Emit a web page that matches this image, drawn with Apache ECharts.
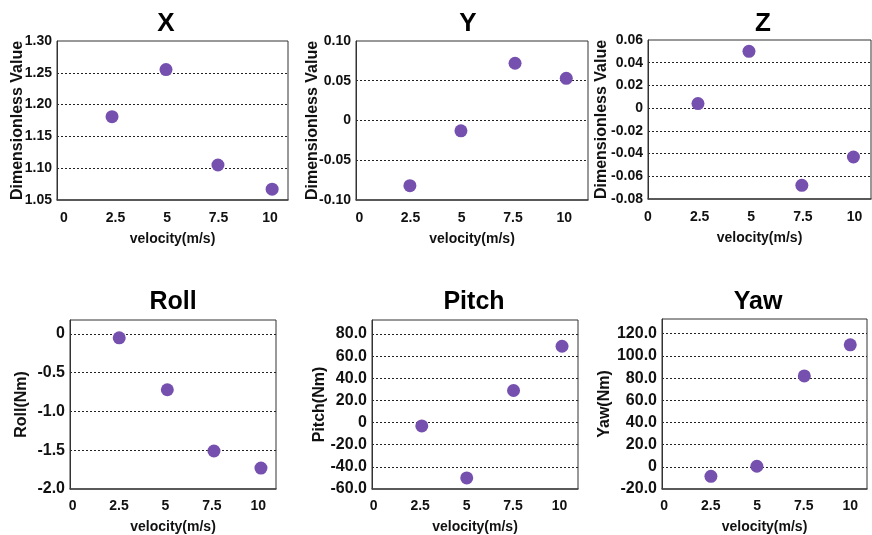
<!DOCTYPE html>
<html>
<head>
<meta charset="utf-8">
<script src="https://cdn.jsdelivr.net/npm/echarts@6/dist/echarts.min.js"></script>
<style>
  html, body { margin: 0; padding: 0; background: #fff; }
  #main { width: 872px; height: 535px; }
</style>
</head>
<body>
<div id="main"></div>
<script>
// 数据
var xTicks = [0, 2.5, 5, 7.5, 10];

var titles = ['X', 'Y', 'Z', 'Roll', 'Pitch', 'Yaw'];
var yNames = ['Dimensionless Value', 'Dimensionless Value', 'Dimensionless Value', 'Roll(Nm)', 'Pitch(Nm)', 'Yaw(Nm)'];

var velX = [2.33, 4.95, 7.47, 10.1];
var velY = [2.47, 4.96, 7.6, 10.1];
var velZ = [2.42, 4.89, 7.45, 9.95];
var velRoll = [2.51, 5.1, 7.61, 10.14];
var velPitch = [2.59, 5.01, 7.53, 10.14];
var velYaw = [2.51, 4.98, 7.53, 10.0];

var valX = [1.181, 1.255, 1.105, 1.067];
var valY = [-0.082, -0.013, 0.072, 0.053];
var valZ = [0.004, 0.050, -0.068, -0.043];
var valRoll = [-0.05, -0.72, -1.51, -1.73];
var valPitch = [-3, -50, 29, 69];
var valYaw = [-8.6, 0.5, 82, 110];

// y轴刻度
var ticksX = [1.05, 1.10, 1.15, 1.20, 1.25, 1.30];
var ticksY = [-0.10, -0.05, 0, 0.05, 0.10];
var ticksZ = [-0.08, -0.06, -0.04, -0.02, 0, 0.02, 0.04, 0.06];
var ticksRoll = [-2.0, -1.5, -1.0, -0.5, 0];
var ticksPitch = [-60, -40, -20, 0, 20, 40, 60, 80];
var ticksYaw = [-20, 0, 20, 40, 60, 80, 100, 120];

var vels = [velX, velY, velZ, velRoll, velPitch, velYaw];
var vals = [valX, valY, valZ, valRoll, valPitch, valYaw];
var yTicks = [ticksX, ticksY, ticksZ, ticksRoll, ticksPitch, ticksYaw];
var yDigits = [2, 2, 2, 1, 1, 1];

// 布局
var grids = [
  { left: 57, top: 41, width: 231, height: 159 },
  { left: 356, top: 41, width: 232, height: 159 },
  { left: 648, top: 40, width: 223, height: 159 },
  { left: 70, top: 320, width: 206, height: 172 },
  { left: 372, top: 320, width: 206, height: 172 },
  { left: 662, top: 319, width: 205, height: 173 }
];
var xRange = [[-0.34, 10.87], [-0.16, 11.16], [0, 10.8], [-0.14, 10.95], [-0.09, 11.0], [-0.12, 10.9]];
var yRange = [[1.05, 1.30], [-0.10, 0.10], [-0.08, 0.06], [-2.0, 0.18], [-60, 92.7], [-20, 133.3]];
var titlePos = [[166, 24], [468, 24], [763, 24], [173, 302], [474, 302], [758, 302]];
var yNameGap = [31, 35, 38, 40, 44, 49];

var FONT = '"Liberation Sans", Arial, Helvetica, sans-serif';
var dotColor = '#7650ae';

var option = {
  animation: false,
  backgroundColor: '#fff',
  textStyle: { fontFamily: FONT },
  grid: [],
  xAxis: [],
  yAxis: [],
  series: [],
  graphic: []
};

for (var i = 0; i < 6; i++) {
  var g = grids[i];
  var bottomRow = i >= 3;
  option.grid.push({
    left: g.left, top: g.top, width: g.width, height: g.height,
    show: true, borderColor: '#333', borderWidth: 1, backgroundColor: 'transparent'
  });

  option.xAxis.push({
    type: 'value',
    gridIndex: i,
    min: xRange[i][0],
    max: xRange[i][1],
    name: 'velocity(m/s)',
    nameLocation: 'middle',
    nameGap: bottomRow ? 31 : 32,
    nameMoveOverlap: false,
    nameTextStyle: { fontSize: 14, fontWeight: 'bold', color: '#111', fontFamily: FONT },
    axisLine: { show: true, onZero: false, lineStyle: { color: '#444', width: 1.5 } },
    axisTick: { show: false, customValues: xTicks },
    axisLabel: {
      customValues: xTicks,
      margin: bottomRow ? 10 : 11,
      fontSize: 14, fontWeight: 'bold', color: '#111', fontFamily: FONT,
      formatter: function (v) { return String(v); }
    },
    splitLine: { show: false }
  });

  var inner = yTicks[i].slice(1, -1);
  // Roll/Pitch/Yaw 顶部没有刻度
  if (i >= 3) inner = yTicks[i].slice(1);
  (function (d) {
    option.yAxis.push({
      type: 'value',
      gridIndex: i,
      min: yRange[i][0],
      max: yRange[i][1],
      name: yNames[i],
      nameLocation: 'middle',
      nameRotate: 90,
      nameGap: yNameGap[i],
      nameMoveOverlap: false,
      nameTextStyle: { fontSize: 16, fontWeight: 'bold', color: '#111', fontFamily: FONT },
      axisLine: { show: true, onZero: false, lineStyle: { color: '#333', width: 1 } },
      axisTick: { show: false, customValues: inner },
      axisLabel: {
        customValues: yTicks[i],
        margin: 5,
        fontSize: bottomRow ? 16 : 14, fontWeight: 'bold', color: '#111', fontFamily: FONT,
        formatter: function (v) {
          if (Math.abs(v) < 1e-9) return '0';
          return v.toFixed(d);
        }
      },
      splitLine: { show: true, lineStyle: { color: '#222', type: [2, 2], width: 1 } }
    });
  })(yDigits[i]);

  var pts = [];
  for (var k = 0; k < vels[i].length; k++) {
    pts.push([vels[i][k], vals[i][k]]);
  }
  option.series.push({
    type: 'scatter',
    xAxisIndex: i,
    yAxisIndex: i,
    symbolSize: 13,
    itemStyle: { color: dotColor, opacity: 1 },
    data: pts
  });

  option.graphic.push({
    type: 'text',
    x: titlePos[i][0],
    y: titlePos[i][1],
    style: {
      text: titles[i],
      fill: '#000',
      font: 'bold ' + (bottomRow ? 25 : 26) + 'px ' + FONT,
      align: 'center',
      verticalAlign: 'middle',
      textAlign: 'center',
      textVerticalAlign: 'middle'
    }
  });
}

var myChart = echarts.init(document.getElementById('main'));
myChart.setOption(option);
</script>
</body>
</html>
